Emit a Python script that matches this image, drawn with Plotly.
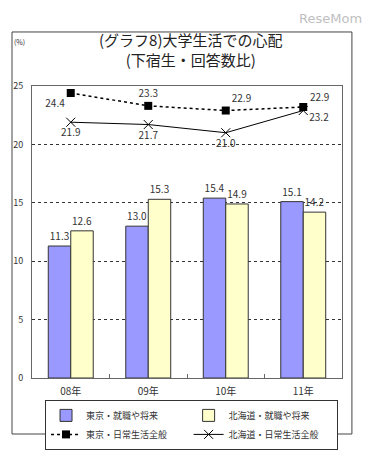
import plotly.graph_objects as go

years = ["08年", "09年", "10年", "11年"]
tokyo_job = [11.3, 13.0, 15.4, 15.1]
hokkaido_job = [12.6, 15.3, 14.9, 14.2]
tokyo_daily = [24.4, 23.3, 22.9, 23.2]
hokkaido_daily = [21.9, 21.7, 21.0, 22.9]
y_ticks = [0, 5, 10, 15, 20, 25]

names = ["東京・就職や将来", "北海道・就職や将来", "東京・日常生活全般", "北海道・日常生活全般"]
font = "Noto Sans CJK JP"
tc = "#333333"

fig = go.Figure()
fig.add_trace(go.Bar(
    x=years, y=tokyo_job, name=names[0],
    marker=dict(color="#9999FF", line=dict(color="#333333", width=1)),
    text=[f"{v:.1f}" for v in tokyo_job], textposition="outside",
    textfont=dict(size=10, color=tc, family=font), cliponaxis=False,
))
fig.add_trace(go.Bar(
    x=years, y=hokkaido_job, name=names[1],
    marker=dict(color="#FFFFCC", line=dict(color="#333333", width=1)),
    text=[f"{v:.1f}" for v in hokkaido_job], textposition="outside",
    textfont=dict(size=10, color=tc, family=font), cliponaxis=False,
))
fig.add_trace(go.Scatter(
    x=years, y=tokyo_daily, name=names[2], mode="lines+markers+text",
    line=dict(color="#000000", width=1.5, dash="dot"),
    marker=dict(symbol="square", size=8, color="#000000"),
    text=[f"{v:.1f}" for v in tokyo_daily],
    textposition=["bottom left", "top center", "top right", "bottom right"],
    textfont=dict(size=10, color=tc, family=font), cliponaxis=False,
))
fig.add_trace(go.Scatter(
    x=years, y=hokkaido_daily, name=names[3], mode="lines+markers+text",
    line=dict(color="#000000", width=1),
    marker=dict(symbol="x-thin-open", size=9, line=dict(color="#000000", width=1)),
    text=[f"{v:.1f}" for v in hokkaido_daily],
    textposition=["bottom center", "bottom center", "bottom center", "top right"],
    textfont=dict(size=10, color=tc, family=font), cliponaxis=False,
))

fig.update_layout(
    width=370, height=455,
    margin=dict(l=24, r=36, t=78, b=85, autoexpand=False),
    paper_bgcolor="white", plot_bgcolor="white",
    font=dict(family=font, size=10, color=tc),
    barmode="group", bargap=0.42, bargroupgap=0,
    showlegend=True,
    legend=dict(
        orientation="h", x=0.042, xanchor="left", y=-0.075, yanchor="top",
        bordercolor="#333333", borderwidth=1, bgcolor="white",
        entrywidth=0.46, entrywidthmode="fraction",
        font=dict(size=9, family=font, color=tc),
        traceorder="normal", itemwidth=30,
        tracegroupgap=0,
    ),
    xaxis=dict(
        showline=True, linecolor="#666666", mirror=True, linewidth=1,
        ticks="inside", tickson="boundaries", ticklen=4, tickcolor="#666666",
        tickfont=dict(size=10, family=font, color=tc), ticklabelstandoff=4,
        showgrid=False, automargin=False,
    ),
    yaxis=dict(
        range=[0, 25], tickvals=y_ticks, showline=True, linecolor="#666666",
        mirror=True, linewidth=1, ticks="", showgrid=True,
        gridcolor="#333333", griddash="dot", gridwidth=1,
        tickfont=dict(size=9, family=font, color=tc), ticklabelstandoff=6,
        zeroline=False, automargin=False,
    ),
    annotations=[
        dict(text="(グラフ8)大学生活での心配<br>(下宿生・回答数比)", xref="paper", yref="paper",
             x=0.51, y=1.125, xanchor="center", yanchor="middle", showarrow=False,
             font=dict(size=15, family=font, color="#222222")),
        dict(text="(%)", xref="paper", yref="paper", x=-0.039, y=1.15,
             xanchor="center", yanchor="middle", showarrow=False,
             font=dict(size=7, family=font, color=tc)),
        dict(text="ReseMom", xref="paper", yref="paper", x=1.07, y=1.232,
             xanchor="right", yanchor="middle", showarrow=False,
             font=dict(size=13, family="DejaVu Sans", color="#c0c0c0")),
    ],
    shapes=[
        dict(type="rect", xref="paper", yref="paper", x0=-0.0645, x1=1.032,
             y0=-0.1918, y1=1.185, line=dict(color="#444444", width=1)),
    ],
)

fig.write_html("out.html")
